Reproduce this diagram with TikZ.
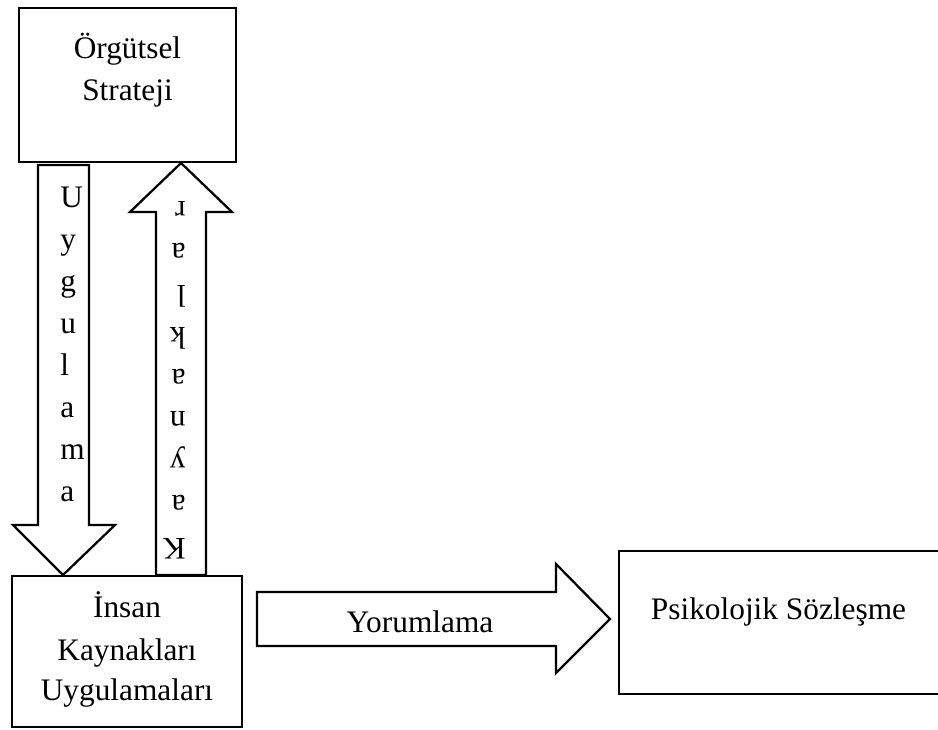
\documentclass[tikz,border=0pt]{standalone}
\usepackage{fontspec}
\setmainfont{Liberation Serif}
\usetikzlibrary{fit}
\begin{document}
\begin{tikzpicture}[x=0.75pt,y=-0.75pt,
  box/.style={draw, line width=1.7pt, inner sep=0pt},
  lbl/.style={font=\fontsize{23.5}{28}\selectfont, inner sep=0pt, anchor=base},
  blk/.style={draw, line width=1.7pt, line join=miter}]
\useasboundingbox (0,0) rectangle (938,729);
\clip (0,0) rectangle (938,729);

% box corners
\coordinate (sa) at (19,8);   \coordinate (sb) at (236,162);
\coordinate (ia) at (12,576); \coordinate (ib) at (242,727);
\coordinate (pa) at (619,551);\coordinate (pb) at (960,694);

\node[box, fit=(sa)(sb)] (strat) {};
\node[box, fit=(ia)(ib)] (ikuy) {};
\node[box, fit=(pa)(pb)] (psiko) {};

% box texts
\node[lbl] (t1) at (127.5,58) {Örgütsel};
\node[lbl] (t2) at (127.5,100) {Strateji};
\node[lbl] (b1) at (127,617) {İnsan};
\node[lbl] (b2) at (127,660) {Kaynakları};
\node[lbl] (b3) at (127,700) {Uygulamaları};
\node[lbl] (p1) at (778.5,619) {Psikolojik Sözleşme};

% downward block arrow: Uygulama
\draw[blk] (38,165) -- (89,165) -- (89,525) -- (115,525) -- (63,575)
  -- (13,525) -- (38,525) -- cycle;
\foreach \ch [count=\i from 0] in {U,y,g,u,l,a,m,a}
  \node[lbl, anchor=base west] (u\i) at (60,{207+42.1*\i}) {\ch};

% upward block arrow: Kaynaklar (upside down)
\draw[blk] (156,575) -- (156,212) -- (130,212) -- (181,163) -- (232,212)
  -- (206,212) -- (206,575) -- cycle;
\foreach \ch [count=\i from 0] in {K,a,y,n,a,k,l,a,r}
  \node[lbl, anchor=base west, rotate=180] (k\i) at (186,{538-42.1*\i}) {\ch};

% rightward block arrow: Yorumlama
\draw[blk] (257,592) -- (556,592) -- (556,564) -- (610,619) -- (556,673)
  -- (556,646) -- (257,646) -- cycle;
\node[lbl] (y1) at (420,632) {Yorumlama};
\end{tikzpicture}
\end{document}
